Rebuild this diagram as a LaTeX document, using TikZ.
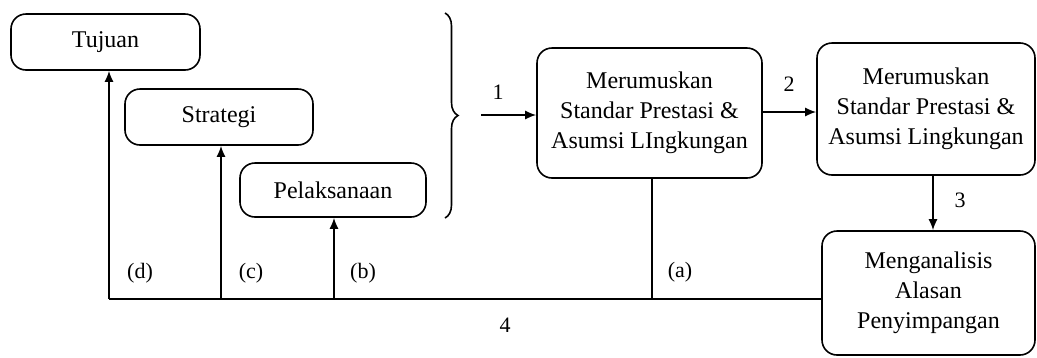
\documentclass[tikz,border=0pt]{standalone}
\usepackage{fontspec}
\setmainfont{Liberation Serif}
\usetikzlibrary{arrows.meta,decorations.pathreplacing}
\begin{document}
\begin{tikzpicture}[x=1pt,y=-1pt,
  line width=1.6pt,
  box/.style={draw, rounded corners=15pt, align=center, inner sep=0pt,
    font=\fontsize{24}{30}\selectfont},
  lbl/.style={font=\fontsize{22}{26}\selectfont, inner sep=0pt},
  arr/.style={-{Latex[length=11pt,width=9pt]}}]
\useasboundingbox (0,0) rectangle (1037,357);

% goal, strategy and implementation boxes
\node[box, minimum width=189pt, minimum height=56pt] (tuj) at (105.5,42) {Tujuan};
\node[box, minimum width=188pt, minimum height=56pt] (str) at (219,117) {Strategi};
\node[box, minimum width=186pt, minimum height=54pt] (pel) at (333,190) {Pelaksanaan};

% brace grouping the three boxes
\draw[decorate, decoration={brace, amplitude=13pt}] (445,13) -- (445,218);
\coordinate (tip) at (481,115);

% process boxes
\node[box, minimum width=225pt, minimum height=130pt] (std1) at (649.5,113) {Merumuskan\\Standar Prestasi \&\\Asumsi LIngkungan};
\node[box, minimum width=218pt, minimum height=132pt] (std2) at (926,109) {Merumuskan\\Standar Prestasi \&\\Asumsi Lingkungan};
\node[box, minimum width=213pt, minimum height=124pt] (ana) at (928.5,293) {Menganalisis\\Alasan\\Penyimpangan};

% main flow
\draw[arr] (tip) -- (std1.west |- tip);
\draw[arr] (std1.east |- 0,112) -- (std2.west |- 0,112);
\draw[arr] (std2.south -| 933,0) -- (ana.north -| 933,0);

% feedback line
\coordinate (fb) at (109,299);
\draw (ana.west |- fb) -- (fb);
\draw[arr] (fb) -- (tuj.south -| fb);
\draw[arr] (221,299) -- (str.south -| 221,0);
\draw[arr] (334,299) -- (pel.south -| 334,0);
\draw (std1.south -| 652,0) -- (652,299);

% labels
\node[lbl] at (498,92) {1};
\node[lbl] at (789,84) {2};
\node[lbl] at (960,200) {3};
\node[lbl] at (505,325) {4};
\node[lbl] at (140,273) {(d)};
\node[lbl] at (251,273) {(c)};
\node[lbl] at (363,273) {(b)};
\node[lbl] at (680,272) {(a)};
\end{tikzpicture}
\end{document}
